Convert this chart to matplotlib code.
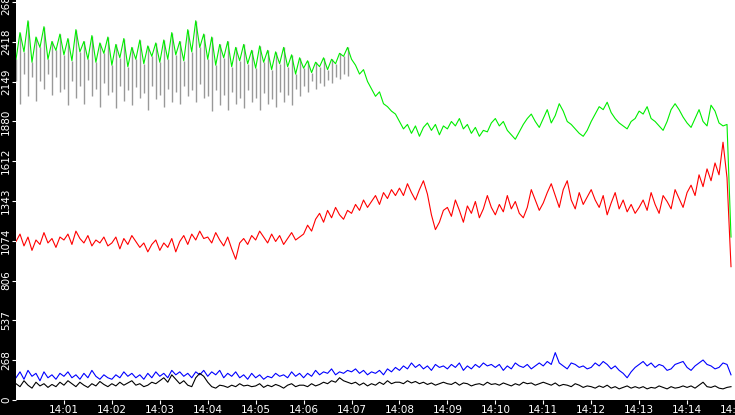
import matplotlib
matplotlib.use("Agg")
import matplotlib.pyplot as plt
import matplotlib.dates as mdates
import numpy as np
import datetime as dt

green = [2300,2480,2350,2560,2280,2450,2380,2520,2300,2420,2360,2470,
 2330,2440,2290,2500,2350,2420,2300,2460,2280,2410,2340,2450,
 2260,2400,2310,2440,2250,2380,2300,2430,2270,2390,2320,2410,
 2280,2430,2300,2480,2330,2420,2290,2500,2350,2560,2380,2470,
 2300,2450,2260,2400,2310,2420,2250,2380,2290,2400,2270,2360,
 2240,2390,2280,2360,2230,2350,2270,2380,2250,2330,2200,2310,
 2240,2290,2210,2280,2250,2310,2230,2300,2270,2340,2320,2380,
 2300,2260,2200,2230,2150,2100,2050,2080,2000,1980,1950,1930,
 1880,1830,1860,1800,1850,1780,1840,1870,1820,1860,1790,1850,
 1830,1880,1850,1900,1830,1860,1800,1840,1780,1820,1810,1870,
 1900,1850,1880,1820,1790,1760,1810,1860,1900,1930,1880,1840,
 1900,1960,1870,1920,2000,1950,1880,1860,1830,1800,1780,1820,
 1880,1930,1980,1960,2010,1940,1900,1870,1850,1830,1880,1900,
 1950,1930,1980,1900,1880,1850,1820,1880,1960,2000,1960,1910,
 1870,1840,1900,1960,1880,1850,1990,1950,1870,1850,1860,1100]

grey = [2150,2000,2200,2050,2180,2020,2150,2100,2200,2060,2180,2080,
 2100,1990,2150,2040,2120,2000,2160,2050,2100,1980,2140,2060,
 2080,1970,2120,2020,2090,1990,2110,2040,2070,1960,2120,2030,
 2060,1980,2100,2010,2080,2000,2120,2050,2090,2010,2130,2040,
 2050,1950,2090,1990,2060,1960,2080,2000,2040,1970,2090,2010,
 2040,1960,2070,2000,2030,1980,2080,2010,2060,1990,2100,2050,
 2120,2080,2150,2100,2140,2120,2160,2140,2180,2170,2200,2190]

red = [1070,1120,1040,1100,1010,1080,1050,1130,1060,1090,1030,1100,
 1080,1120,1050,1140,1090,1060,1110,1040,1080,1060,1100,1040,
 1060,1100,1020,1090,1050,1110,1070,1030,1060,1000,1050,1080,
 1010,1060,1030,1090,1000,1070,1110,1050,1120,1080,1140,1090,
 1100,1060,1130,1080,1040,1100,1020,950,1060,1090,1050,1110,
 1080,1140,1100,1060,1120,1070,1110,1050,1090,1130,1080,1100,
 1120,1180,1140,1220,1260,1200,1280,1230,1300,1250,1220,1280,
 1260,1320,1280,1350,1300,1340,1380,1320,1400,1360,1420,1380,
 1430,1380,1460,1400,1350,1420,1480,1390,1250,1150,1200,1280,
 1300,1240,1350,1280,1200,1310,1260,1340,1230,1290,1380,1300,
 1250,1320,1270,1380,1290,1340,1260,1230,1300,1420,1350,1280,
 1330,1400,1460,1380,1300,1420,1480,1350,1290,1400,1320,1370,
 1420,1350,1300,1380,1250,1330,1400,1290,1350,1270,1320,1260,
 1300,1350,1280,1400,1320,1260,1380,1340,1290,1420,1360,1300,
 1400,1450,1380,1520,1440,1560,1480,1600,1520,1740,1500,900]

blue = [150,190,140,200,160,180,130,190,150,170,140,180,
 160,190,150,170,140,180,150,200,160,140,170,150,
 140,170,150,190,160,180,150,170,140,180,150,190,
 160,180,150,200,170,190,160,180,150,190,170,200,
 160,190,170,200,150,180,160,190,150,170,140,180,
 150,170,140,160,150,180,160,170,150,190,160,180,
 150,180,160,200,170,190,180,210,170,190,180,200,
 190,210,180,200,170,190,180,200,170,210,190,220,
 200,230,210,250,220,240,210,230,200,240,220,230,
 210,240,220,250,200,230,210,240,220,250,230,240,
 220,240,200,230,210,250,230,220,240,210,230,250,
 230,260,240,320,250,230,210,250,240,220,230,210,
 220,250,230,260,240,210,230,200,180,150,190,220,
 240,260,230,250,220,240,230,200,210,240,250,260,
 220,200,230,250,270,240,230,210,220,250,240,170]

black = [110,90,130,100,80,120,95,110,85,105,90,120,
 100,130,110,90,120,100,85,110,95,125,105,90,
 110,95,120,100,115,130,100,110,90,100,120,110,
 130,150,120,170,140,110,130,100,90,150,180,160,
 120,90,80,100,95,85,100,90,110,95,100,90,
 95,110,85,100,90,105,95,80,100,110,90,100,
 100,90,110,95,105,120,110,130,120,150,130,120,
 110,120,100,115,95,110,100,120,105,130,110,120,
 120,110,130,115,125,110,120,105,115,100,110,120,
 110,105,120,100,115,110,95,105,110,100,120,105,
 110,100,115,105,95,110,100,120,110,115,100,110,
 120,110,100,115,95,105,100,90,110,100,85,95,
 90,80,95,85,100,80,90,75,85,95,80,90,
 80,90,75,85,80,95,85,75,90,80,85,95,
 85,95,80,100,120,90,85,95,80,75,85,90]

yticks = [0, 268, 537, 806, 1074, 1343, 1612, 1880, 2149, 2418, 2687]

t0 = dt.datetime(2024, 1, 1, 14, 0, 0)
times = [t0 + dt.timedelta(seconds=5 * i) for i in range(len(green))]

fig = plt.figure(figsize=(7.35, 4.15), dpi=100, facecolor="black")
ax = fig.add_axes([16/735, 15/415, 719/735, 400/415])
ax.set_facecolor("white")
lw = 0.8
ax.vlines(times[:len(grey)], grey, green[:len(grey)], color="#999999", lw=1.0)
ax.plot(times, green, color="#00ee00", lw=lw)
ax.plot(times, red, color="#ff0000", lw=lw)
ax.plot(times, blue, color="#0000ff", lw=lw)
ax.plot(times, black, color="#000000", lw=lw)

ax.set_xlim(t0, t0 + dt.timedelta(minutes=15))
ax.set_ylim(0, 2700)
ax.set_yticks(yticks)
ax.set_yticklabels([str(v) for v in yticks], rotation=90, va="center")
ax.xaxis.set_major_locator(mdates.MinuteLocator(byminute=range(1, 16)))
ax.xaxis.set_major_formatter(mdates.DateFormatter("%H:%M"))
ax.tick_params(colors="white", labelsize=7.5, length=3, pad=0.5)
for s in ax.spines.values():
    s.set_visible(False)
fig.savefig("out.png", dpi=100, facecolor="black")
